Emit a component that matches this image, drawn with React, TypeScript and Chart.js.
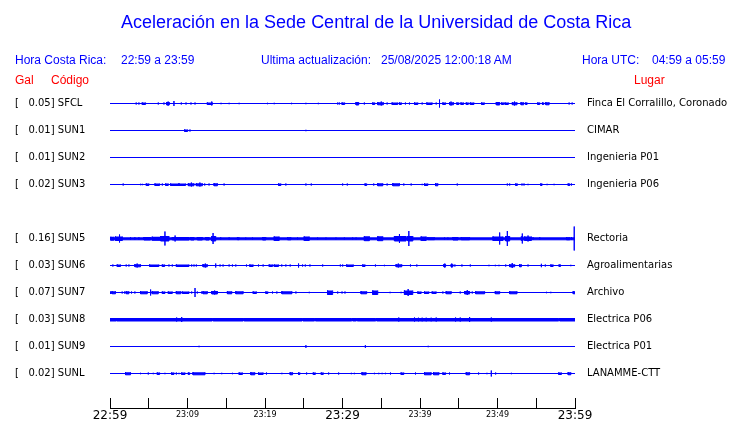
import React, { useEffect, useRef } from 'react';
import { Chart, registerables } from 'chart.js';

Chart.register(...registerables);

// ---------------- data ----------------
const codes = ['SFCL', 'SUN1', 'SUN2', 'SUN3', 'SUN5', 'SUN6', 'SUN7', 'SUN8', 'SUN9', 'SUNL'];
const galPeak = [0.05, 0.01, 0.01, 0.02, 0.16, 0.03, 0.07, 0.03, 0.01, 0.02];
const places = [
  'Finca El Corralillo, Coronado', 'CIMAR', 'Ingenieria P01', 'Ingenieria P06', 'Rectoria',
  'Agroalimentarias', 'Archivo', 'Electrica P06', 'Electrica P01', 'LANAMME-CTT',
];
// background noise half-amplitude of each trace (counts)
const noiseLevel = [0, 0, 0, 0, 1.3, 0, 0, 0, 0, 0];
// x axis: minutes after 22:59, ticks every 5 min
const timeLabels = ['22:59', '', '23:09', '', '23:19', '', '23:29', '', '23:39', '', '23:49', '', '23:59'];

// bursts: [start minute, end minute, half amplitude (counts)]
type Burst = [number, number, number];
const sfclBursts: Burst[] = [
  [3.38, 3.38, 1], [3.73, 3.73, 1], [4.16, 4.59, 1], [6.23, 6.23, 1], [6.96, 6.96, 1], [7.31, 7.65, 1.5], [7.5, 7.5, 2],
  [8.25, 8.25, 2.5], [9.2, 9.2, 1], [9.81, 9.81, 1], [10.45, 10.45, 1], [10.97, 10.97, 1], [12.56, 13.21, 1], [13.13, 13.13, 2],
  [14.33, 14.33, 0.7], [15.37, 15.37, 0.7], [16.66, 16.66, 0.7], [20.32, 20.32, 0.7], [21.19, 21.19, 0.7], [23.43, 23.43, 0.7],
  [25.28, 25.28, 0.7], [26.88, 26.88, 0.7], [29.38, 29.38, 1], [29.59, 29.59, 1], [29.94, 30.28, 1], [31.75, 32.09, 1.5],
  [32.82, 32.82, 1], [33.9, 34.16, 1], [34.55, 35.28, 1.3], [35.0, 35.0, 2], [35.76, 35.76, 1], [36.4, 37.13, 1], [37.35, 37.6, 1],
  [38.12, 38.12, 1], [38.64, 38.64, 1], [39.29, 39.72, 1], [40.28, 40.28, 1], [40.88, 41.57, 1], [42.09, 42.09, 1], [42.52, 42.52, 4],
  [42.95, 43.3, 1], [43.81, 44.33, 1.3], [44.0, 44.0, 2], [44.76, 45.02, 1], [45.28, 45.62, 1], [45.97, 46.23, 1], [46.49, 46.96, 1],
  [47.95, 48.3, 1], [49.85, 50.28, 1.5], [50.54, 50.8, 1], [50.97, 51.4, 1], [51.92, 52.52, 1.3], [52.2, 52.2, 2], [53.04, 53.38, 1.3],
  [53.64, 53.82, 1], [55.19, 55.45, 1], [55.8, 55.97, 1], [56.23, 56.66, 1.3], [59.24, 59.24, 1], [59.63, 59.63, 1],
];
const sun1Bursts: Burst[] = [[9.63, 10.02, 1], [10.32, 10.32, 1], [25.28, 25.28, 0.7]];
const sun2Bursts: Burst[] = [[25.28, 25.28, 1]];
const sun3Bursts: Burst[] = [
  [1.7, 1.7, 1], [3.94, 3.94, 0.7], [4.16, 4.16, 0.7], [4.68, 5.02, 1], [5.8, 6.4, 1], [6.75, 6.75, 1], [7.18, 7.52, 1], [7.82, 9.76, 1],
  [8.9, 8.9, 1.5], [10.11, 10.84, 1.3], [10.5, 10.5, 2], [11.14, 11.92, 1.3], [11.6, 11.6, 2], [12.22, 12.22, 1], [12.78, 12.78, 1],
  [13.43, 13.86, 1.3], [14.72, 14.72, 1], [21.75, 22.05, 1], [22.69, 22.69, 1], [25.28, 25.28, 1], [25.97, 25.97, 1], [30.02, 30.02, 1],
  [30.62, 30.62, 1], [32.91, 33.12, 1], [34.03, 34.03, 1], [34.55, 35.2, 1.3], [35.76, 35.76, 1], [36.49, 37.35, 1.3], [37.91, 37.91, 1],
  [38.86, 38.86, 1], [40.28, 40.28, 0.7], [40.58, 41.01, 1], [42.0, 42.3, 1.3], [44.81, 44.81, 1], [51.27, 51.27, 1], [51.57, 51.57, 1],
  [52.35, 52.56, 1], [53.16, 53.16, 1], [53.42, 53.42, 1], [53.94, 53.94, 0.7], [55.58, 55.75, 1], [56.4, 56.4, 0.7], [57.3, 57.3, 0.7],
  [59.12, 59.33, 1], [59.55, 59.55, 1],
];
const sun5Bursts: Burst[] = [
  [0.1, 0.5, 1.7], [0.7, 1.6, 2], [1.23, 1.23, 4], [2.65, 2.65, 1.3], [3.21, 3.21, 1.3], [3.73, 3.73, 1.3], [4.38, 5.24, 1.5],
  [5.45, 6.53, 1.8], [6.53, 7.61, 2.5], [7.09, 7.09, 7], [8.04, 10.2, 1.5], [8.4, 8.4, 3], [10.41, 10.84, 1.5], [11.27, 11.92, 1.5],
  [12.35, 12.78, 1.5], [13.13, 13.64, 2.5], [13.3, 13.3, 5.5], [14.29, 14.29, 1.2], [15.37, 15.37, 1.2], [16.44, 16.66, 1.2],
  [17.52, 17.52, 1], [18.38, 18.38, 1], [19.68, 20.11, 1.5], [21.19, 21.83, 2], [22.91, 23.34, 1.3], [24.2, 24.2, 1], [25.06, 25.71, 2],
  [26.79, 26.79, 1], [27.87, 27.87, 1], [29.16, 29.16, 1], [30.24, 30.24, 1], [31.31, 31.31, 1], [31.75, 31.75, 1], [32.82, 33.47, 2.2],
  [34.55, 35.2, 2.2], [36.7, 38.21, 2.5], [37.35, 37.35, 4.5], [38.43, 39.08, 2.5], [38.56, 38.56, 7.5], [40.15, 40.8, 2],
  [41.01, 41.88, 1.2], [43.17, 43.17, 1], [43.6, 43.6, 1], [44.25, 44.9, 1.5], [45.32, 46.4, 1.3], [49.42, 50.71, 2], [50.28, 50.28, 6],
  [51.06, 51.57, 2.5], [51.27, 51.27, 7.5], [53.08, 53.3, 2], [53.2, 53.2, 5], [53.51, 54.38, 2], [53.94, 53.94, 3], [54.59, 54.59, 1.3],
  [55.45, 55.45, 1.3], [58.9, 59.33, 1.3], [59.55, 59.55, 1.5], [59.9, 59.9, 12],
];
const sun6Bursts: Burst[] = [
  [0.37, 0.37, 1], [0.93, 1.36, 1], [2.09, 2.09, 1], [2.44, 2.44, 1], [3.21, 3.94, 1.3], [3.5, 3.5, 2], [5.11, 6.31, 1], [6.75, 7.05, 1],
  [7.61, 7.61, 1], [8.04, 8.04, 1], [8.56, 10.19, 1], [10.54, 10.54, 1], [10.84, 10.84, 1], [11.14, 11.14, 1], [12.0, 12.56, 1.3],
  [12.3, 12.3, 2], [13.64, 13.64, 2], [14.2, 14.2, 1], [14.59, 14.59, 1], [15.37, 15.37, 1], [15.8, 15.8, 1], [16.23, 16.23, 1],
  [17.61, 17.61, 1], [18.04, 18.47, 1], [19.16, 19.16, 1], [19.76, 19.76, 1], [20.54, 20.97, 1], [21.19, 21.75, 1], [22.16, 22.16, 1],
  [22.69, 22.69, 1], [23.25, 23.25, 1], [24.33, 24.33, 2], [24.85, 24.85, 1], [25.2, 25.2, 1], [25.8, 25.8, 1], [27.44, 27.44, 1],
  [29.72, 29.72, 1], [30.02, 30.02, 1], [30.54, 31.4, 1], [32.61, 32.91, 1], [34.25, 34.25, 1], [35.41, 35.41, 0.7], [36.92, 37.65, 1.3],
  [37.2, 37.2, 2], [38.77, 38.77, 1], [39.59, 39.59, 1], [43.08, 43.3, 1.3], [43.2, 43.2, 2], [44.03, 44.25, 1.3], [44.1, 44.1, 2],
  [44.5, 44.5, 1], [45.41, 45.41, 1], [46.49, 46.49, 1], [48.9, 48.9, 0.7], [49.72, 49.72, 0.7], [50.19, 50.19, 0.7], [51.06, 51.06, 1],
  [51.57, 52.22, 1.3], [51.9, 51.9, 2.5], [52.85, 53.08, 1.3], [53.94, 53.94, 1], [55.66, 55.66, 1.7], [56.17, 56.17, 1],
  [56.88, 57.18, 1], [57.95, 58.13, 1], [59.46, 59.46, 0.7],
];
const sun7Bursts: Burst[] = [
  [0, 0.19, 1], [0.28, 0.71, 1.3], [1.57, 1.57, 1], [1.88, 1.88, 1], [2.09, 2.44, 1.3], [2.78, 2.78, 1], [3.21, 3.21, 1], [3.94, 4.81, 1.3],
  [5.24, 5.24, 3], [5.45, 6.23, 1.3], [6.75, 7.09, 1], [7.52, 8.04, 1], [8.56, 9.12, 1.3], [9.33, 10.19, 1], [10.54, 10.54, 1],
  [10.97, 10.97, 4.5], [11.27, 11.27, 1], [11.83, 11.83, 1], [12.0, 12.56, 1.3], [13.13, 13.86, 1.5], [13.5, 13.5, 2], [15.15, 15.71, 1.3],
  [16.23, 17.18, 1.3], [18.47, 18.9, 1], [20.11, 20.37, 1], [20.97, 20.97, 1], [21.53, 21.53, 1], [22.18, 23.47, 1.3], [23.99, 23.99, 1],
  [25.71, 25.71, 0.7], [28.08, 28.73, 2], [29.38, 29.38, 1], [29.94, 29.94, 1], [30.32, 30.32, 1], [32.39, 33.12, 1.3], [33.9, 34.55, 2],
  [36.14, 36.14, 0.7], [37.56, 37.56, 0.7], [37.99, 39.07, 2], [38.47, 38.47, 3.5], [39.72, 40.15, 1], [40.58, 41.14, 1], [41.57, 42.09, 1],
  [42.95, 42.95, 1], [43.38, 44.03, 1.3], [45.19, 45.19, 1], [45.75, 46.4, 1.5], [46.1, 46.1, 2.5], [46.74, 46.74, 1], [47.18, 48.34, 1.3],
  [49.72, 50.28, 1.3], [51.57, 52.52, 1.3], [56.32, 56.32, 0.7], [56.88, 56.88, 0.7], [59.77, 60, 1.3],
];
const sun8Bursts: Burst[] = [
  [0, 0.8, 1.5], [0.85, 13.2, 1.5], [13.3, 17.2, 1.5], [17.3, 24.8, 1.5], [24.9, 26.4, 1.5], [26.5, 31.2, 1.5], [31.3, 31.8, 1.5],
  [31.9, 34.3, 1.5], [34.4, 57.9, 1.5], [58.0, 60, 1.5], [8.6, 8.6, 2], [9.25, 9.25, 2.5], [37.26, 37.26, 2], [39.29, 39.29, 2],
  [39.8, 39.8, 1.8], [40.28, 40.28, 1.8], [40.8, 40.8, 1.8], [41.44, 41.44, 1.8], [42.09, 42.09, 2], [44.59, 44.59, 2], [45.19, 45.19, 2],
  [46.4, 46.4, 2.5], [49.2, 49.2, 2],
];
const sun9Bursts: Burst[] = [[11.49, 11.49, 0.7], [25.28, 25.28, 1.3], [32.95, 32.95, 1.3], [41.06, 41.06, 0.7]];
const sunlBursts: Burst[] = [
  [2.0, 2.65, 1.3], [3.94, 3.94, 0.7], [4.94, 4.94, 1], [5.58, 5.58, 0.7], [6.1, 6.4, 1], [7.09, 7.09, 0.7], [7.95, 8.25, 1], [8.56, 8.56, 1],
  [8.9, 8.9, 0.7], [9.25, 9.68, 1], [10.11, 10.28, 1], [10.71, 12.26, 1.3], [13.43, 13.43, 0.7], [14.42, 14.42, 0.7], [15.8, 15.8, 0.7],
  [16.66, 17.09, 1], [18.17, 18.68, 1.3], [19.16, 19.76, 1], [20.19, 20.19, 1], [22.18, 22.18, 0.7], [23.25, 23.56, 1.3], [24.33, 24.5, 1],
  [25.37, 25.37, 1], [26.23, 26.49, 1], [27.26, 27.52, 1], [28.21, 28.21, 1], [29.5, 29.5, 1], [31.14, 31.14, 0.7], [31.53, 31.53, 0.7],
  [32.52, 33.04, 1.3], [34.12, 34.12, 0.7], [34.68, 34.68, 0.7], [35.11, 35.11, 0.7], [35.54, 35.54, 0.7], [36.19, 36.19, 1],
  [37.56, 37.91, 1], [39.42, 39.42, 1], [40.58, 41.44, 1.3], [41.75, 42.44, 1.3], [42.95, 43.3, 1], [43.81, 43.81, 1], [45.97, 46.4, 1.3],
  [47.56, 47.56, 1], [48.64, 48.64, 0.7], [49.2, 49.2, 3], [49.76, 49.76, 1], [51.79, 51.79, 0.7], [57.9, 58.25, 1], [59.12, 59.46, 1.3],
];
const stationBursts: Burst[][] = [
  sfclBursts, sun1Bursts, sun2Bursts, sun3Bursts, sun5Bursts, sun6Bursts, sun7Bursts, sun8Bursts, sun9Bursts, sunlBursts,
];

// ---------------- layout helpers ----------------
const ROW = 27; // counts between trace baselines
const slotOf = (i: number) => (i < 4 ? i : i + 1); // SUN4 has no trace
const baseOf = (i: number) => slotOf(i) * ROW;
const BLUE = '#0000ff';
const FONT = "'DejaVu Sans', sans-serif";
const HFONT = "'Liberation Sans', Arial, sans-serif";

function tracePoints(bursts: Burst[], base: number) {
  const pts: { x: number; y: number | null }[] = [];
  for (const [t0, t1, a] of bursts) {
    pts.push({ x: t0, y: base - a }, { x: t0, y: base + a }, { x: t1, y: base + a }, { x: t1, y: base - a }, { x: t1, y: null });
  }
  return pts;
}

const leftLabels = codes.map((c, i) => `[${galPeak[i].toFixed(2).padStart(7, ' ')}] ${c}`);

export default function App() {
  const ref = useRef<HTMLCanvasElement>(null);
  useEffect(() => {
    if (!ref.current) return;
    const datasets = codes.map((c, i) => ({
      label: c,
      data: tracePoints([[0, 60, noiseLevel[i]] as Burst, ...stationBursts[i]], baseOf(i)),
      borderColor: BLUE,
      backgroundColor: BLUE,
      borderWidth: 1,
      pointRadius: 0,
      fill: 'shape',
      spanGaps: false,
      tension: 0,
      yAxisID: 'y',
    }));
    const tickValues = codes.map((_, i) => ({ value: baseOf(i) }));
    const yCommon = {
      type: 'linear' as const,
      min: -13.5,
      max: 304.5,
      reverse: true,
      grid: { display: false, drawTicks: false },
      border: { display: false },
      afterBuildTicks: (s: any) => { s.ticks = tickValues.map((t) => ({ ...t })); },
    };
    const chart = new Chart(ref.current, {
      type: 'line',
      data: { datasets: datasets as any },
      options: {
        animation: false,
        responsive: false,
        devicePixelRatio: 1,
        parsing: false as any,
        normalized: true,
        layout: { padding: { left: 15, top: 90, right: 0, bottom: 0 } },
        plugins: { legend: { display: false }, tooltip: { enabled: false } },
        scales: {
          x: {
            type: 'linear',
            min: 0,
            max: 60,
            grid: { display: true, drawOnChartArea: false, drawTicks: true, tickLength: -10, color: '#000', lineWidth: 1 },
            border: { display: true, color: '#000', width: 1 },
            ticks: {
              stepSize: 5,
              autoSkip: false,
              maxRotation: 0,
              padding: 10,
              color: '#000',
              callback: (_v: any, i: number) => timeLabels[i],
              font: (ctx: any) => (ctx.index % 6 === 0
                ? { family: FONT, size: 12, lineHeight: '15px' }
                : { family: FONT, size: 8, lineHeight: '13px' }),
            },
            afterFit: (s: any) => { s.height = 15; s.paddingTop = 0; s.paddingBottom = 0; },
          },
          y: {
            ...yCommon,
            position: 'left',
            ticks: {
              autoSkip: false,
              crossAlign: 'far',
              padding: 0,
              color: '#000',
              font: { family: FONT, size: 10 },
              callback: (_v: any, i: number) => leftLabels[i],
            },
            afterFit: (s: any) => { s.width = 95; s.paddingTop = 0; s.paddingBottom = 0; },
          },
          y2: {
            ...yCommon,
            position: 'right',
            ticks: {
              autoSkip: false,
              crossAlign: 'near',
              padding: 12,
              color: '#000',
              font: { family: FONT, size: 10 },
              callback: (_v: any, i: number) => places[i],
            },
            afterFit: (s: any) => { s.width = 165; s.paddingTop = 0; s.paddingBottom = 0; },
          },
        } as any,
      },
    });
    return () => chart.destroy();
  }, []);

  const t = (left: number, top: number, size: number, color: string, text: string) => (
    <span style={{ position: 'absolute', left, top, fontFamily: HFONT, fontSize: size, lineHeight: `${size + 2}px`, color, whiteSpace: 'pre' }}>{text}</span>
  );

  return (
    <div style={{ position: 'absolute', left: 0, top: 0, width: 740, height: 423, background: '#fff' }}>
      <canvas ref={ref} width={740} height={423} style={{ position: 'absolute', left: 0, top: 0, width: 740, height: 423 }} />
      {t(121, 12, 18, BLUE, 'Aceleración en la Sede Central de la Universidad de Costa Rica')}
      {t(15, 53, 12, BLUE, 'Hora Costa Rica:')}
      {t(121, 53, 12, BLUE, '22:59 a 23:59')}
      {t(261, 53, 12, BLUE, 'Ultima actualización:')}
      {t(381, 53, 12, BLUE, '25/08/2025 12:00:18 AM')}
      {t(582, 53, 12, BLUE, 'Hora UTC:')}
      {t(652, 53, 12, BLUE, '04:59 a 05:59')}
      {t(15, 73, 12, '#ff0000', 'Gal')}
      {t(51, 73, 12, '#ff0000', 'Código')}
      {t(634, 73, 12, '#ff0000', 'Lugar')}
    </div>
  );
}
